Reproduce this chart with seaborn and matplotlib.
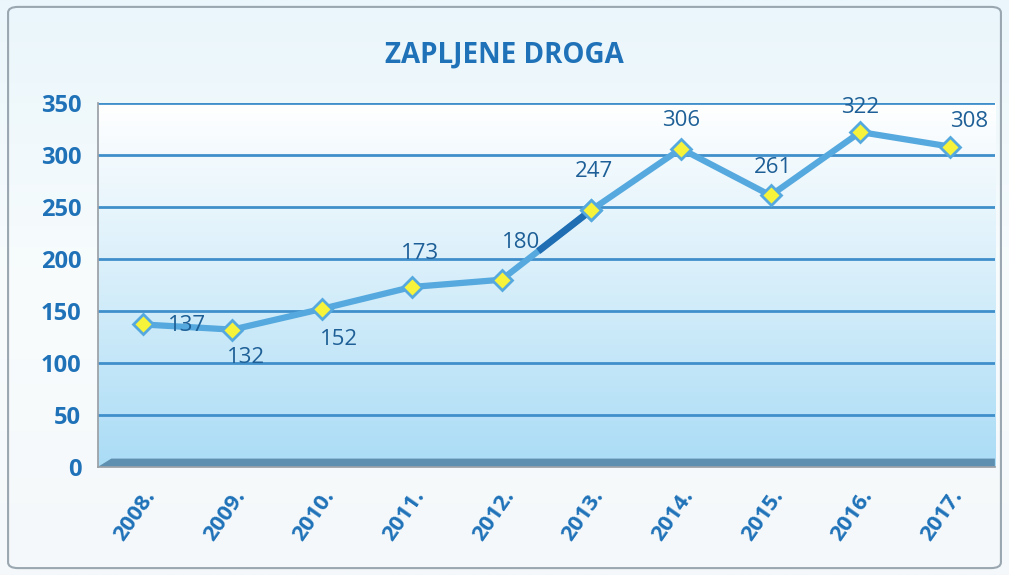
import numpy as np
import pandas as pd
import matplotlib
matplotlib.use("Agg")
import matplotlib.pyplot as plt
import seaborn as sns
from matplotlib.patches import FancyBboxPatch, Polygon

sns.set_theme(style="white")
plt.rcParams["font.family"] = ["Open Sans", "DejaVu Sans"]

godine = ["2008.", "2009.", "2010.", "2011.", "2012.",
          "2013.", "2014.", "2015.", "2016.", "2017."]
zapljene = [137, 132, 152, 173, 180, 247, 306, 261, 322, 308]
# pomak oznaka (dx, dy u tockama)
pomaci = [(32, -1), (10, -20), (12, -22), (6, 24), (14, 27),
          (2, 28), (0, 20), (2, 20), (0, 18), (14, 18)]

df = pd.DataFrame({"godina": godine, "zapljene": zapljene})
df["x"] = range(len(df))

plava = "#1f72b8"
tamna = "#1d5f96"

fig = plt.figure(figsize=(10.09, 5.75), dpi=100)
fig.patch.set_facecolor("white")

# pozadina okvira
bg = fig.add_axes([0, 0, 1, 1], zorder=-10)
grad = np.linspace(0, 1, 256).reshape(-1, 1)
bg.imshow(grad, cmap=matplotlib.colors.LinearSegmentedColormap.from_list(
    "bg", ["#eaf6fb", "#f8fcfd", "#f4f8fa"]), aspect="auto", extent=[0, 1, 0, 1])
bg.add_patch(FancyBboxPatch((0.008, 0.012), 0.984, 0.976,
                            boxstyle="round,pad=0,rounding_size=0.01",
                            fill=False, ec="#9aa7b0", lw=1.5))
bg.set_xlim(0, 1); bg.set_ylim(0, 1)
bg.axis("off")

ax = fig.add_axes([0.097, 0.188, 0.889, 0.633])
ax.set_xlim(-0.5, 9.5)
ax.set_ylim(0, 350)

# gradijent zida
cm = matplotlib.colors.LinearSegmentedColormap.from_list(
    "zid", ["#aadcf6", "#d6eefa", "#ffffff"])
ax.imshow(np.linspace(0, 1, 256).reshape(-1, 1), cmap=cm, aspect="auto",
          extent=[-0.5, 9.5, 0, 350], origin="lower", zorder=0)

for y in range(50, 351, 50):
    ax.axhline(y, color="#3f8fcb", lw=2, zorder=1)

# pod (3D efekt)
ax.add_patch(Polygon([(-0.5, 0), (-0.35, 8), (9.5, 8), (9.5, 0)],
                     closed=True, fc="#5f8fb0", ec="none", zorder=2))

sns.lineplot(data=df, x="x", y="zapljene", ax=ax, color="#55a9de", lw=4.5,
             marker="D", markersize=10, markerfacecolor="#f7f23a",
             markeredgecolor="#55a9de", markeredgewidth=2, zorder=4)
seg = df.iloc[4:6]
ax.plot([seg["x"].iloc[0] + 0.41, seg["x"].iloc[1]],
        [seg["zapljene"].iloc[0] + 0.41 * (seg["zapljene"].iloc[1] - seg["zapljene"].iloc[0]),
         seg["zapljene"].iloc[1]], color="#1f6db3", lw=5, zorder=5,
        solid_capstyle="butt")
ax.plot(seg["x"].iloc[1], seg["zapljene"].iloc[1], marker="D", markersize=10,
        mfc="#f7f23a", mec="#55a9de", mew=2, zorder=6)

for x, y, (dx, dy) in zip(df["x"], zapljene, pomaci):
    ax.annotate(str(y), (x, y), xytext=(dx, dy), textcoords="offset points",
                ha="center", va="center", fontsize=16, color=tamna, zorder=7)

ax.set_xticks(df["x"])
ax.set_xticklabels(godine, rotation=55, ha="right", rotation_mode="anchor",
                   fontsize=16, fontweight="bold", color=plava)
ax.set_yticks(range(0, 351, 50))
ax.set_yticklabels(range(0, 351, 50), fontsize=17, fontweight="bold", color=plava)
ax.tick_params(axis="x", pad=14, length=0)
ax.tick_params(axis="y", pad=12, length=0)
ax.set_xlabel(""); ax.set_ylabel("")
for s in ["top", "right"]:
    ax.spines[s].set_visible(False)
ax.spines["left"].set_color("#9aa0a6")
ax.spines["bottom"].set_color("#9aa0a6")

fig.text(0.5, 0.905, "ZAPLJENE DROGA", ha="center", va="center",
         fontsize=20, fontweight="bold", color=plava)

fig.savefig("out.png", dpi=100)
